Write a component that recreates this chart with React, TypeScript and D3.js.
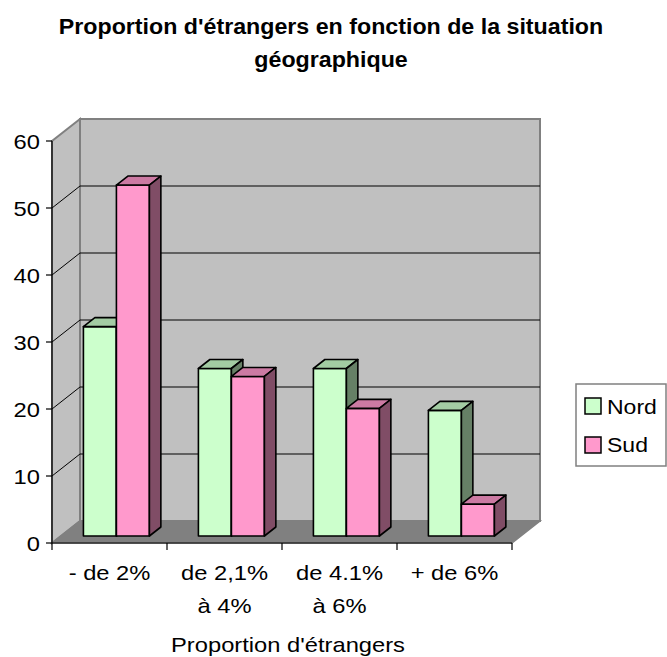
import React from "react";
import * as d3 from "d3";

const categories = ["- de 2%", "de 2,1%|à 4%", "de 4.1%|à 6%", "+ de 6%"];
const seriesNames = ["Nord", "Sud"];
const nordValues = [31.25, 25, 25, 18.75];
const sudValues = [52.38, 23.81, 19.05, 4.76];
const yTicks = [0, 10, 20, 30, 40, 50, 60];
const frontColors = ["#ccffcc", "#ff99cc"];

const W = 667;
const H = 657;
const FONT = "'Liberation Sans', Arial, sans-serif";
const SX = 1.13;

export default function App() {
  const x = d3.scaleBand<string>().domain(categories).range([52, 512]);
  const y = d3.scaleLinear().domain([0, 60]).range([543, 141]);
  const DX = 28, DY = -22; // wall depth
  const bf = 7 / 22, bb = 16 / 22; // bar depth fractions
  const barW = 33;
  const barPad = 22.5;
  const series = [nordValues, sudValues];

  const darken = (c: string, k: number) => {
    const r = d3.rgb(c);
    return d3.rgb(r.r * k, r.g * k, r.b * k).formatHex();
  };
  const pts = (p: number[][]) => p.map((q) => q.join(",")).join(" ");

  const y0 = y(0), yTop = y(60);
  const xL = x.range()[0], xR = x.range()[1];

  const bars: React.ReactNode[] = [];
  categories.forEach((c, ci) => {
    series.forEach((vals, si) => {
      const v = vals[ci];
      const fx = (x(c) as number) + barPad + si * barW + DX * bf;
      const fyB = y0 + DY * bf;
      const fyT = y(v) + DY * bf;
      const ddx = DX * (bb - bf), ddy = DY * (bb - bf);
      const col = frontColors[si];
      bars.push(
        <g key={`${ci}-${si}`} stroke="#000" strokeWidth={1.6} strokeLinejoin="round">
          <rect x={fx} y={fyT} width={barW} height={fyB - fyT} fill={col} />
          <polygon
            points={pts([[fx, fyT], [fx + ddx, fyT + ddy], [fx + barW + ddx, fyT + ddy], [fx + barW, fyT]])}
            fill={darken(col, 0.8)}
          />
          <polygon
            points={pts([[fx + barW, fyT], [fx + barW + ddx, fyT + ddy], [fx + barW + ddx, fyB + ddy], [fx + barW, fyB]])}
            fill={darken(col, 0.5)}
          />
        </g>
      );
    });
  });

  const stext = (key: string, tx: number, ty: number, s: string, anchor: string, size: number, bold = false, sx = SX) => (
    <text
      key={key}
      transform={`translate(${tx},${ty}) scale(${sx},1)`}
      textAnchor={anchor}
      fontSize={size}
      fontWeight={bold ? "bold" : "normal"}
      fontFamily={FONT}
      fill="#000"
    >
      {s}
    </text>
  );

  return (
    <svg width={W} height={H} style={{ position: "absolute", left: 0, top: 0, background: "#fff" }}>
      {/* side wall */}
      <polygon points={pts([[xL, y0], [xL, yTop], [xL + DX, yTop + DY], [xL + DX, y0 + DY]])} fill="#c0c0c0" stroke="#808080" strokeWidth={2} />
      {/* back wall */}
      <polygon points={pts([[xL + DX, y0 + DY], [xL + DX, yTop + DY], [xR + DX, yTop + DY], [xR + DX, y0 + DY]])} fill="#c0c0c0" stroke="#808080" strokeWidth={2} />
      {/* gridlines */}
      {yTicks.filter((t) => t > 0 && t < 60).map((t) => (
        <g key={t} stroke="#000" strokeWidth={1}>
          <line x1={xL} y1={y(t)} x2={xL + DX} y2={y(t) + DY} />
          <line x1={xL + DX} y1={y(t) + DY} x2={xR + DX} y2={y(t) + DY} />
        </g>
      ))}
      {/* floor */}
      <polygon points={pts([[xL, y0], [xL + DX, y0 + DY], [xR + DX, y0 + DY], [xR, y0]])} fill="#808080" stroke="#808080" strokeWidth={1.5} />
      {bars}
      {/* axes */}
      <line x1={xL} y1={yTop} x2={xL} y2={y0} stroke="#000" strokeWidth={1.2} />
      <line x1={xL} y1={y0} x2={xR} y2={y0} stroke="#000" strokeWidth={1.2} />
      {yTicks.map((t) => (
        <line key={`yt${t}`} x1={xL - 6} y1={y(t)} x2={xL} y2={y(t)} stroke="#000" strokeWidth={1.2} />
      ))}
      {[...categories.map((c) => x(c) as number), xR].map((px, i) => (
        <line key={`xt${i}`} x1={px} y1={y0} x2={px} y2={y0 + 7} stroke="#000" strokeWidth={1.2} />
      ))}
      {yTicks.map((t) => stext(`yl${t}`, 40, y(t) + 7.5, String(t), "end", 21))}
      {categories.map((c) => {
        const cx = (x(c) as number) + x.bandwidth() / 2;
        return c.split("|").map((line, li) => stext(`cl${c}${li}`, cx, 580 + li * 33, line, "middle", 21));
      })}
      {stext("axt", 288, 652, "Proportion d'étrangers", "middle", 21)}
      {stext("t1", 331, 34, "Proportion d'étrangers en fonction de la situation", "middle", 21.5, true, 1.08)}
      {stext("t2", 331, 67, "géographique", "middle", 21.5, true, 1.08)}
      {/* legend */}
      <rect x={576} y={384} width={90} height={82} fill="#fff" stroke="#808080" strokeWidth={1.5} />
      {seriesNames.map((n, i) => (
        <g key={n}>
          <rect x={585} y={398 + i * 39} width={16} height={16} fill={frontColors[i]} stroke="#000" strokeWidth={1.5} />
          {stext(`lg${n}`, 607, 414 + i * 38, n, "start", 20, false, 1.15)}
        </g>
      ))}
    </svg>
  );
}
